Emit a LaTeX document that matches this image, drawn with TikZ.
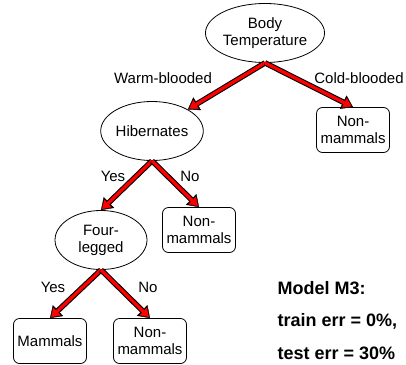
\documentclass[tikz,border=0pt]{standalone}
\usepackage{fontspec}
\setmainfont{Liberation Sans}
\usetikzlibrary{arrows.meta, shapes, positioning}

\tikzset{
  test/.style={ellipse, draw, line width=0.8pt, minimum width=92pt, minimum height=59pt, inner sep=0pt, align=center},
  leaf/.style={rectangle, rounded corners=6pt, draw, line width=0.8pt, minimum width=73pt, minimum height=45pt, inner sep=0pt, align=center},
  branch/.style={line width=5.5pt, draw=black, -{Triangle[length=11pt, width=15pt, line width=0.4pt]},
    postaction={draw=red, line width=3.3pt, shorten >=1.6pt, -{Triangle[length=8pt, width=10.5pt, line width=0.4pt]}}}
}

\begin{document}
\begin{tikzpicture}[x=1pt, y=1pt, font=\fontsize{15}{17}\selectfont]
	\useasboundingbox (0, 0) rectangle (406, -364);

	\node[test, minimum width=119pt] (body)	at (265, -33)	{Body\\Temperature};
	\node[leaf] (nonmam1)		at (353, -130)	{Non-\\mammals};
	\node[test] (hibern)		at (152, -131)	{Hibernates};
	\node[leaf] (nonmam2)		at (199, -230)	{Non-\\mammals};
	\node[test] (legged)		at (101, -240)	{Four-\\legged};
	\node[leaf] (mammals)		at (50, -341)	{Mammals};
	\node[leaf] (nonmam3)		at (150, -341)	{Non-\\mammals};

	\draw[branch] (body.south) to (hibern);
	\draw[branch] (body.south) to (nonmam1.north);
	\draw[branch] (hibern.south) to (legged.north);
	\draw[branch] (hibern.south) to (nonmam2.north);
	\draw[branch] (legged.south) to (mammals.north);
	\draw[branch] (legged.south) to (nonmam3.north);

	%etiquettes des branches
	\node (warm)	at (163, -78)	{Warm-blooded};
	\node (cold)	at (359, -78)	{Cold-blooded};
	\node (yes1)	at (113, -176)	{Yes};
	\node (no1)		at (190, -176)	{No};
	\node (yes2)	at (53, -287)	{Yes};
	\node (no2)		at (148, -287)	{No};

	%partie droite
	\node[anchor=west, font=\fontsize{18}{20}\selectfont\bfseries] (model)	at (274, -288)	{Model M3:};
	\node[anchor=west, font=\fontsize{18}{20}\selectfont\bfseries] (train)	at (274, -321)	{train err = 0\%,};
	\node[anchor=west, font=\fontsize{18}{20}\selectfont\bfseries] (testerr)	at (274, -353)	{test err = 30\%};
\end{tikzpicture}
\end{document}
